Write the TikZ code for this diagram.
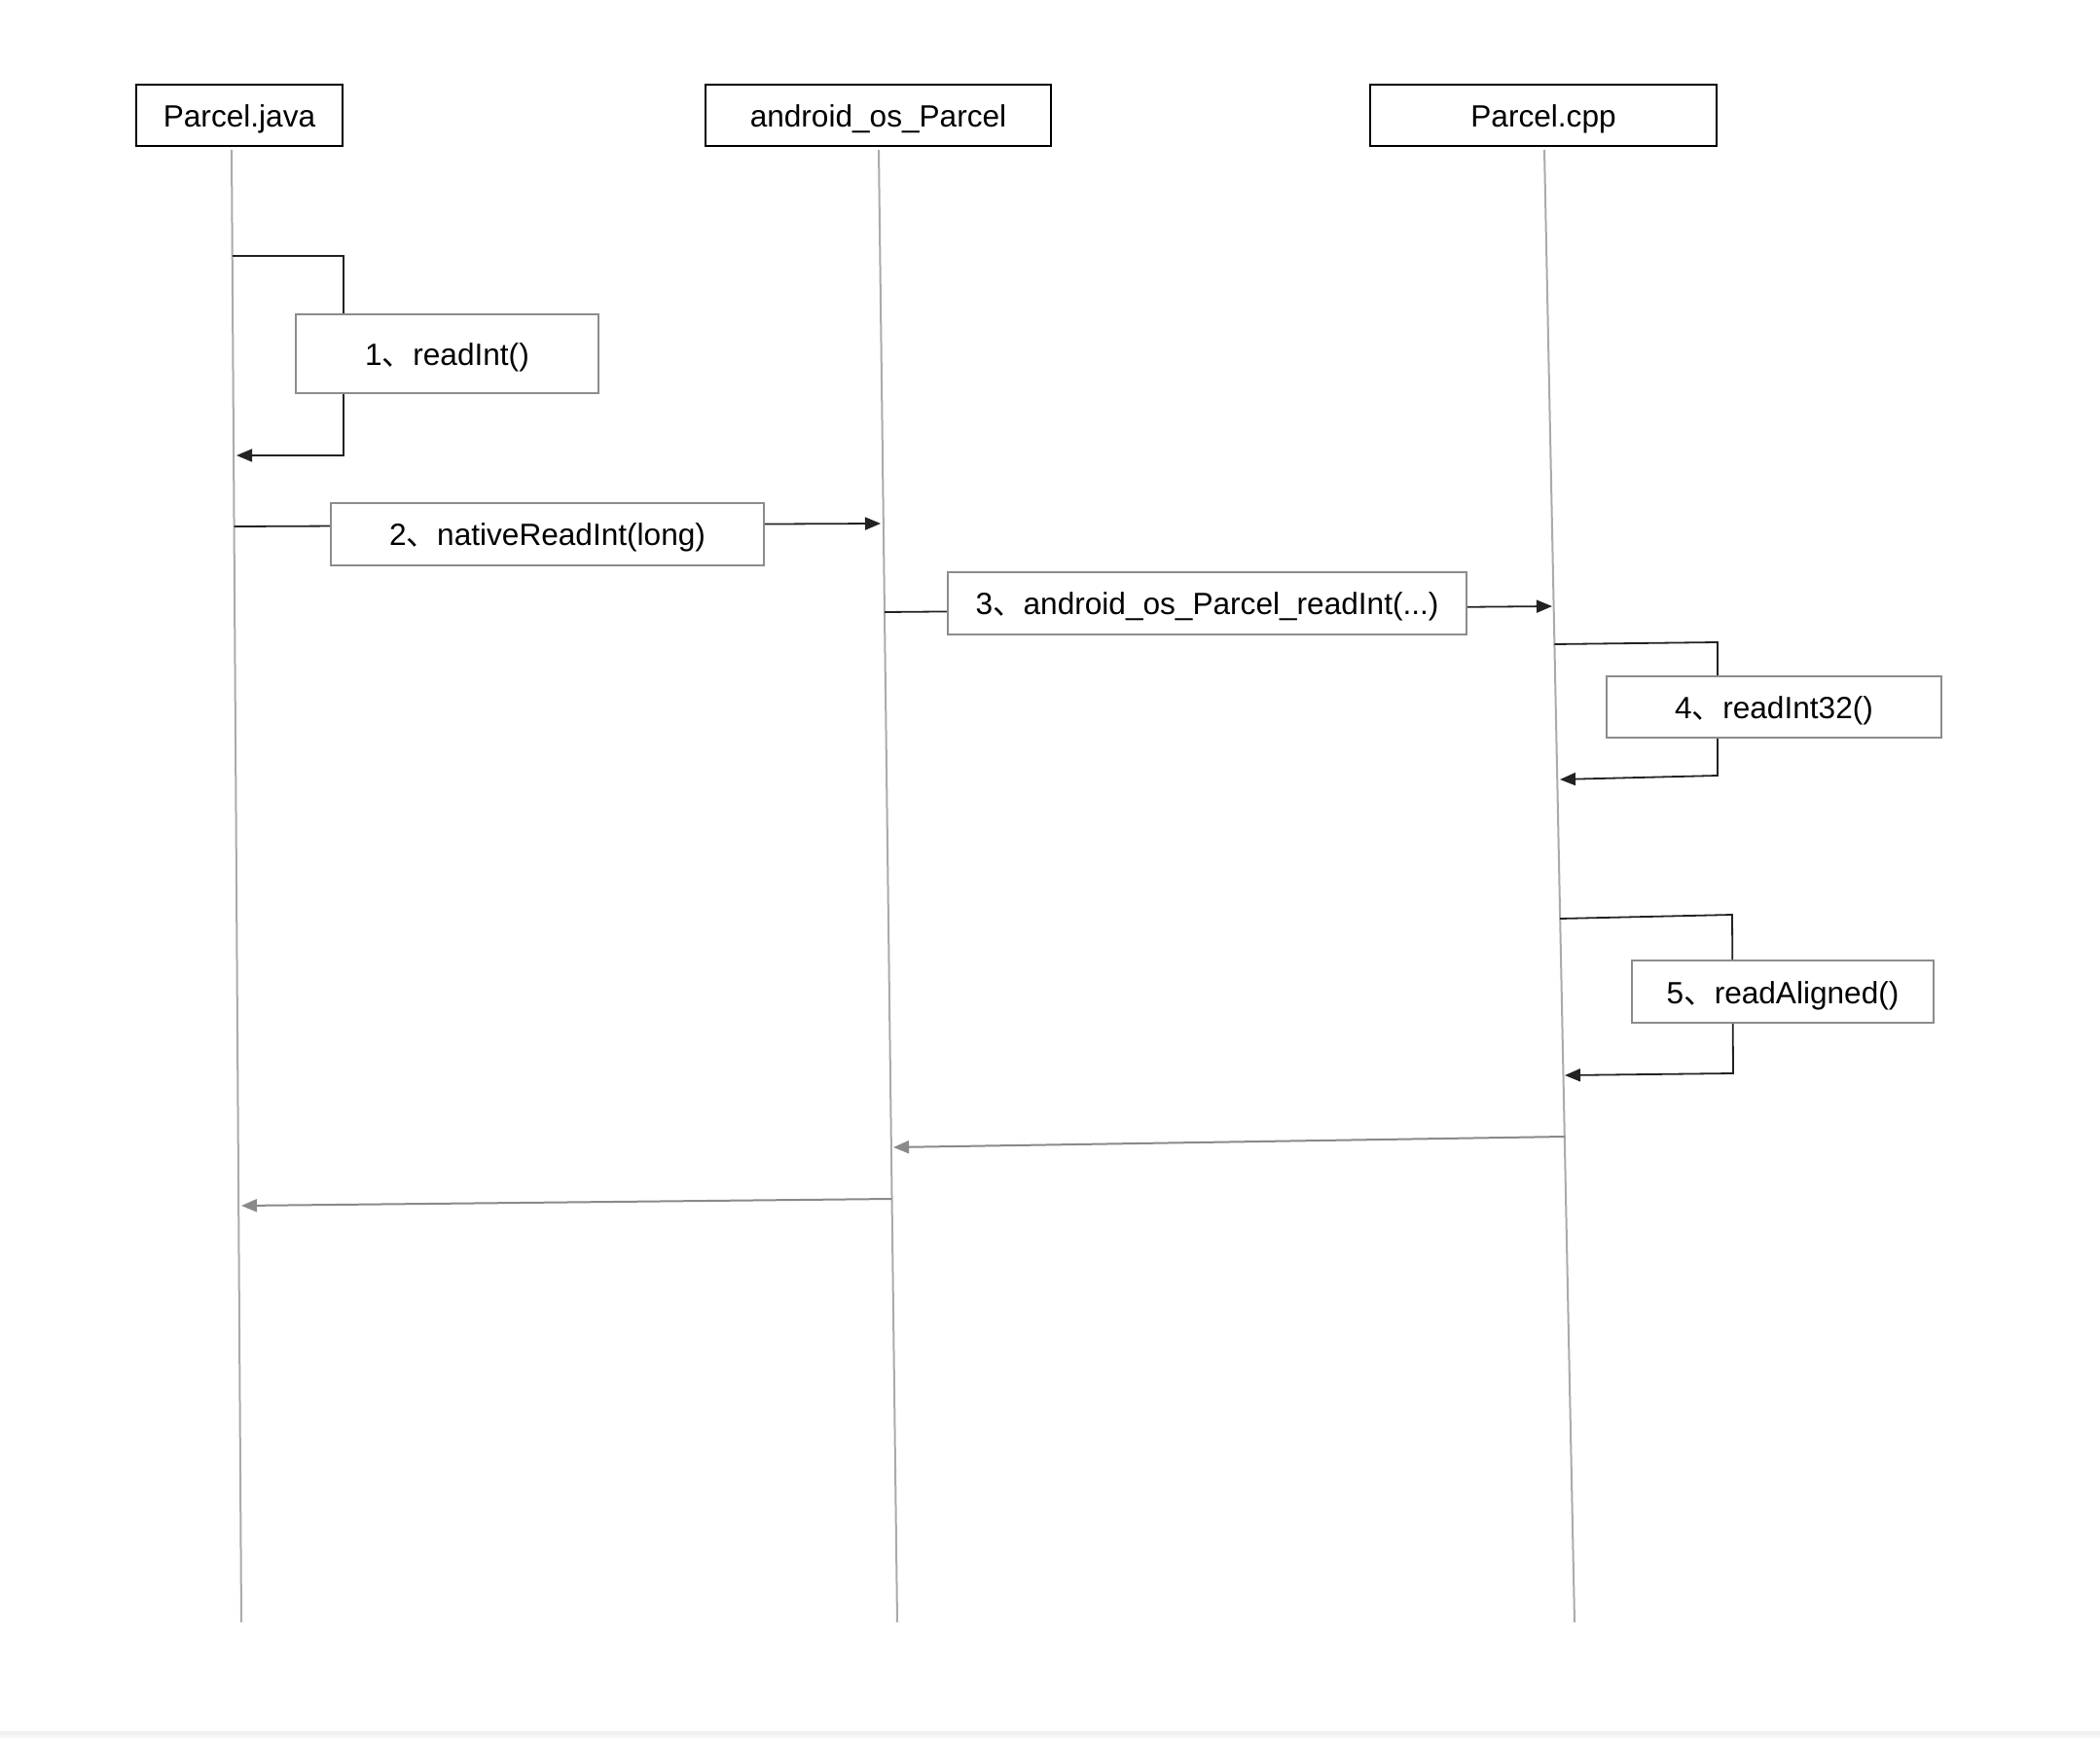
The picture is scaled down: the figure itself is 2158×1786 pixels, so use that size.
\documentclass[tikz,border=0pt]{standalone}
\usepackage{fontspec}
\setmainfont{Liberation Sans}
\newfontfamily\cjk{Noto Sans CJK SC}
\usetikzlibrary{arrows.meta}
\newcommand{\dun}{{\cjk 、}}
\definecolor{lifegray}{HTML}{ABABAB}
\definecolor{boxgray}{HTML}{8C8C8C}
\definecolor{callcol}{HTML}{222222}
\definecolor{retgray}{HTML}{8A8A8A}
\begin{document}
\begin{tikzpicture}[x=0.5pt,y=-0.5pt,
  font=\fontsize{15.8}{18}\selectfont,
  every node/.style={text height=12pt, text depth=0pt},
  header/.style={draw=black, line width=1pt, fill=white, minimum height=31.5pt, inner sep=0pt},
  lbl/.style={draw=boxgray, line width=0.8pt, fill=white, minimum height=32pt, inner sep=0pt},
  life/.style={draw=lifegray, line width=1pt},
  call/.style={draw=callcol, line width=0.9pt, -{Triangle[length=8pt,width=6.5pt]}},
  ret/.style={draw=retgray, line width=1pt, -{Triangle[length=8pt,width=6.5pt]}}]
\useasboundingbox (0,0) rectangle (2158,1786);
\fill[white] (0,0) rectangle (2158,1786);
\fill[black!6] (0,1779) rectangle (2158,1786);
\fill[black!3] (0,1783) rectangle (2158,1786);

% headers
\node[header, minimum width=106pt] (hj) at (246,118.5) {Parcel.java};
\node[header, minimum width=177.5pt] (ha) at (902.5,118.5) {android\_os\_Parcel};
\node[header, minimum width=178pt] (hc) at (1586,118.5) {Parcel.cpp};

% lifelines
\coordinate (jt) at (238,154); \coordinate (jb) at (248,1667);
\coordinate (at) at (903,154); \coordinate (ab) at (922,1667);
\coordinate (ct) at (1587,154); \coordinate (cb) at (1618,1667);
\draw[life] (jt) -- (jb);
\draw[life] (at) -- (ab);
\draw[life] (ct) -- (cb);

% message endpoints
\coordinate (m1s) at (238.7,263); \coordinate (m1e) at (243,468);
\coordinate (m2s) at (240.6,541); \coordinate (m2e) at (905,538);
\coordinate (m3s) at (909,629);   \coordinate (m3e) at (1595,623);
\coordinate (m4s) at (1597.4,662); \coordinate (m4e) at (1603,801);
\coordinate (m5s) at (1603.2,944); \coordinate (m5e) at (1608,1105);
\coordinate (r1s) at (1607.8,1168); \coordinate (r1e) at (918,1179);
\coordinate (r2s) at (916.5,1232); \coordinate (r2e) at (248,1239);

% 1
\draw[call] (m1s) -- (353,263) -- (353,468) -- (m1e)
  node[lbl, minimum width=155.5pt, minimum height=40.5pt] (l1) at (459.5,363.5) {1\dun readInt()};
% 2
\draw[call] (m2s) -- (m2e)
  node[lbl, minimum width=222.5pt] (l2) at (562.5,549) {2\dun nativeReadInt(long)};
% 3
\draw[call] (m3s) -- (m3e)
  node[lbl, minimum width=266.5pt] (l3) at (1240.5,620) {3\dun android\_os\_Parcel\_readInt(...)};
% 4
\draw[call] (m4s) -- (1765,660) -- (1765,797) -- (m4e)
  node[lbl, minimum width=172pt, minimum height=31.5pt] (l4) at (1823,726.5) {4\dun readInt32()};
% 5
\draw[call] (m5s) -- (1780,940) -- (1781,1103) -- (m5e)
  node[lbl, minimum width=155pt] (l5) at (1832,1019) {5\dun readAligned()};

% returns
\draw[ret] (r1s) -- (r1e);
\draw[ret] (r2s) -- (r2e);
\end{tikzpicture}
\end{document}
